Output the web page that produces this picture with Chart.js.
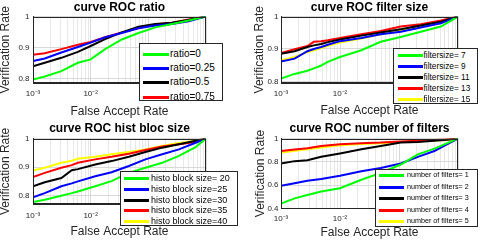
<!DOCTYPE html>
<html><head><meta charset="utf-8">
<script src="https://cdn.jsdelivr.net/npm/chart.js@4/dist/chart.umd.min.js"></script>
<style>
html,body{margin:0;padding:0;background:#fff}
body{width:480px;height:242px;position:relative;overflow:hidden;font-family:"Liberation Sans",Arial,sans-serif}
.panel{position:absolute;width:240px;height:121px}
canvas{display:block}
.leg{position:absolute;background:#fff;border:1px solid #262626;box-sizing:border-box}
.row{position:absolute;left:0;right:0;height:12px;white-space:nowrap;color:#000}
.row .ln{position:absolute;height:3px;top:5px}
.row span{position:absolute;top:0;line-height:12px}
</style>
</head><body>
<div class="panel" style="left:0;top:0"><canvas id="c1" width="240" height="121"></canvas></div>
<div class="panel" style="left:240px;top:0"><canvas id="c2" width="240" height="121"></canvas></div>
<div class="panel" style="left:0;top:121px"><canvas id="c3" width="240" height="121"></canvas></div>
<div class="panel" style="left:240px;top:121px"><canvas id="c4" width="240" height="121"></canvas></div>
<script>
// ---------- data ----------
// Panel 1: ratio
const ratioFAR = [0.001, 0.0016, 0.0031, 0.006, 0.01, 0.0178, 0.0347, 0.0676, 0.132, 0.257, 0.501, 1];
const ratio0    = [0.797, 0.807, 0.824, 0.851, 0.862, 0.895, 0.926, 0.947, 0.965, 0.976, 0.987, 1.0];
const ratio025  = [0.857, 0.865, 0.884, 0.902, 0.916, 0.933, 0.947, 0.962, 0.971, 0.976, 0.985, 1.0];
const ratio05   = [0.840, 0.851, 0.867, 0.886, 0.905, 0.927, 0.949, 0.967, 0.976, 0.980, 0.989, 1.0];
const ratio075  = [0.877, 0.882, 0.895, 0.909, 0.918, 0.933, 0.949, 0.963, 0.974, 0.980, 0.990, 1.0];
const ratioLabels = ['ratio=0', 'ratio=0.25', 'ratio=0.5', 'ratio=0.75'];

// Panel 2: filter size
const filtFAR = [0.001, 0.0017, 0.0028, 0.0036, 0.0048, 0.0062, 0.01, 0.023, 0.049, 0.107, 0.234, 0.513, 1];
const filt7  = [0.809, 0.823, 0.833, 0.840, 0.849, 0.860, 0.875, 0.896, 0.922, 0.937, 0.953, 0.969, 1.0];
const filt9  = [0.861, 0.870, 0.893, 0.900, 0.906, 0.913, 0.924, 0.934, 0.945, 0.953, 0.966, 0.979, 1.0];
const filt11 = [0.885, 0.893, 0.906, 0.911, 0.915, 0.921, 0.929, 0.941, 0.951, 0.961, 0.972, 0.984, 1.0];
const filt13 = [0.887, 0.899, 0.909, 0.922, 0.924, 0.927, 0.934, 0.945, 0.955, 0.969, 0.976, 0.988, 1.0];
const filt15 = [0.865, 0.875, 0.890, 0.896, 0.903, 0.910, 0.920, 0.932, 0.945, 0.958, 0.969, 0.984, 1.0];
const filtLabels = ['filtersize= 7', 'filtersize= 9', 'filtersize= 11', 'filtersize= 13', 'filtersize= 15'];

// Panel 3: hist bloc size
const histFAR = [0.001, 0.0016, 0.0031, 0.0047, 0.006, 0.012, 0.023, 0.046, 0.089, 0.174, 0.339, 0.661, 1];
const hist20 = [0.778, 0.786, 0.800, 0.809, 0.815, 0.833, 0.851, 0.880, 0.898, 0.915, 0.939, 0.970, 1.0];
const hist25 = [0.794, 0.809, 0.833, 0.843, 0.850, 0.868, 0.882, 0.904, 0.927, 0.945, 0.962, 0.985, 1.0];
const hist30 = [0.833, 0.847, 0.862, 0.889, 0.893, 0.909, 0.921, 0.936, 0.953, 0.968, 0.980, 0.992, 1.0];
const hist35 = [0.865, 0.880, 0.898, 0.907, 0.915, 0.927, 0.936, 0.947, 0.960, 0.972, 0.980, 0.988, 1.0];
const hist40 = [0.888, 0.898, 0.915, 0.922, 0.929, 0.936, 0.945, 0.953, 0.962, 0.974, 0.984, 0.992, 1.0];
const histLabels = ['histo block size= 20', 'histo block size=25', 'histo block size=30', 'histo block size=35', 'histo block size=40'];

// Panel 4: number of filters
const numFAR = [0.001, 0.0017, 0.0028, 0.0048, 0.01, 0.023, 0.049, 0.107, 0.209, 0.398, 0.661, 1];
const num1 = [0.443, 0.487, 0.516, 0.545, 0.574, 0.646, 0.704, 0.777, 0.864, 0.913, 0.960, 1.0];
const num2 = [0.594, 0.617, 0.638, 0.652, 0.681, 0.719, 0.748, 0.786, 0.843, 0.893, 0.951, 1.0];
const num3 = [0.786, 0.806, 0.814, 0.843, 0.872, 0.907, 0.936, 0.965, 0.971, 0.980, 0.990, 1.0];
const num4 = [0.893, 0.905, 0.916, 0.936, 0.951, 0.960, 0.965, 0.975, 0.980, 0.987, 0.994, 1.0];
const num5 = [0.878, 0.895, 0.907, 0.922, 0.942, 0.952, 0.959, 0.970, 0.974, 0.982, 0.988, 1.0];
const numLabels = ['number of filters= 1', 'number of filters= 2', 'number of filters= 3', 'number of filters= 4', 'number of filters= 5'];

// tick labels
const xTickValues = [0.001, 0.01];
const xTickText = ['10\u207B\u00B3', '10\u207B\u00B2'];
const yTicksA = [0.8, 0.9, 1];
const yTicksB = [0.4, 0.5, 0.6, 0.7, 0.8, 0.9, 1];

const titles = ['curve ROC ratio', 'curve ROC filter size', 'curve ROC hist bloc size', 'curve ROC number of filters'];
const xTitle = 'False Accept Rate';
const yTitle = 'Verification Rate';

// ---------- styling ----------
const FONT = '"Liberation Sans", Arial, Helvetica, sans-serif';
const C4 = ['#00ff00', '#0000ff', '#000000', '#ff0000'];
const C5 = ['#00ff00', '#0000ff', '#000000', '#ff0000', '#ffff00'];

// grid positions for log axis (1..9 x 10^k)
const gridVals = [];
for (let e = -3; e <= -1; e++) for (let m = 1; m <= 9; m++) gridVals.push(parseFloat((m * Math.pow(10, e)).toPrecision(3)));
gridVals.push(1);

const boxPlugin = {
  id: 'box',
  afterDatasetsDraw(chart) {
    const a = chart.chartArea, ctx = chart.ctx;
    ctx.save();
    ctx.strokeStyle = '#262626';
    ctx.lineWidth = 1;
    ctx.strokeRect(Math.round(a.left) + 0.5, Math.round(a.top) + 0.5, Math.round(a.right) - Math.round(a.left) - 1, Math.round(a.bottom) - Math.round(a.top) - 1);
    ctx.restore();
  }
};

function makePanel(id, g, title, far, series, colors) {
  const datasets = series.map((s, i) => ({
    data: far.map((x, j) => ({x: x, y: s[j]})),
    borderColor: colors[i], backgroundColor: colors[i],
    borderWidth: 2, pointRadius: 0, tension: 0, fill: false
  }));
  new Chart(document.getElementById(id), {
    type: 'line',
    data: {datasets},
    plugins: [boxPlugin],
    options: {
      responsive: false, animation: false, devicePixelRatio: 1,
      layout: {padding: {left: 0, right: 240 - g.right, top: 0, bottom: 0}},
      plugins: {
        legend: {display: false}, tooltip: {enabled: false},
        title: {display: true, text: title, fullSize: false, color: '#000',
          font: {family: FONT, size: 12, weight: 'bold', lineHeight: 1},
          padding: {top: g.tPad, bottom: g.top - 12 - g.tPad}}
      },
      scales: {
        x: {
          type: 'logarithmic', min: 0.001, max: 1,
          afterBuildTicks: s => { s.ticks = gridVals.map(v => ({value: v})); },
          afterFit: s => { s.height = 121 - g.bottom; s.paddingLeft = 0; s.paddingRight = 0; },
          ticks: {autoSkip: false, maxRotation: 0, padding: g.xPad, color: '#262626',
            font: {family: FONT, size: 8},
            callback: v => { const k = xTickValues.indexOf(v); return k >= 0 ? xTickText[k] : ''; }},
          grid: {drawTicks: false, lineWidth: 1,
            color: c => { const v = c.tick && c.tick.value; const l = Math.log10(v); return Math.abs(l - Math.round(l)) < 1e-6 ? '#d9d9d9' : '#e8e8e8'; }},
          border: {color: '#262626', width: 1},
          title: {display: true, text: xTitle, color: '#262626',
            font: {family: FONT, size: 12, lineHeight: 1}, padding: {top: 0, bottom: 121 - g.xTitleY - 6}}
        },
        y: {
          type: 'linear', min: g.ymin, max: 1,
          afterBuildTicks: s => { s.ticks = g.yTicks.map(v => ({value: v})); },
          afterFit: s => { s.width = g.left; },
          ticks: {padding: g.yPad, color: '#262626', font: {family: FONT, size: 8},
            callback: v => String(parseFloat(Number(v).toFixed(2)))},
          grid: {drawTicks: false, color: '#d9d9d9', lineWidth: 1},
          border: {color: '#262626', width: 1},
          title: {display: true, text: yTitle, color: '#262626',
            font: {family: FONT, size: 12, lineHeight: 1}, padding: {top: g.yTitleX - 6, bottom: 0}}
        }
      }
    }
  });
}

makePanel('c1', {left: 33, right: 206, top: 16.5, bottom: 83, ymin: 0.786, yTicks: yTicksA, tPad: 2, xPad: 6, yPad: 3.5, xTitleY: 112, yTitleX: 6},
  titles[0], ratioFAR, [ratio0, ratio025, ratio05, ratio075], C4);
makePanel('c2', {left: 41, right: 218, top: 16.5, bottom: 83, ymin: 0.795, yTicks: yTicksA, tPad: 2, xPad: 6, yPad: 2.5, xTitleY: 111, yTitleX: 20},
  titles[1], filtFAR, [filt7, filt9, filt11, filt13, filt15], C5);
makePanel('c3', {left: 33, right: 206, top: 17.5, bottom: 83.3, ymin: 0.770, yTicks: yTicksA, tPad: 2, xPad: 7, yPad: 3.5, xTitleY: 111, yTitleX: 6},
  titles[2], histFAR, [hist20, hist25, hist30, hist35, hist40], C5);
makePanel('c4', {left: 41, right: 218, top: 17.5, bottom: 87.5, ymin: 0.4, yTicks: yTicksB, tPad: 2, xPad: 5.5, yPad: 2.5, xTitleY: 112, yTitleX: 20.5},
  titles[3], numFAR, [num1, num2, num3, num4, num5], C5);

// ---------- legends (HTML overlays) ----------
function makeLegend(box, labels, colors) {
  const d = document.createElement('div');
  d.className = 'leg';
  d.style.left = box.x + 'px'; d.style.top = box.y + 'px';
  d.style.width = box.w + 'px'; d.style.height = box.h + 'px';
  labels.forEach((t, i) => {
    const r = document.createElement('div');
    r.className = 'row';
    r.style.top = Math.round(box.r0 + i * box.dr - 6) + 'px';
    const ln = document.createElement('div');
    ln.className = 'ln';
    ln.style.background = colors[i];
    ln.style.left = box.l0 + 'px'; ln.style.width = box.lw + 'px';
    const sp = document.createElement('span');
    sp.textContent = t;
    sp.style.left = box.tx + 'px'; sp.style.fontSize = box.fs + 'px';
    r.appendChild(ln); r.appendChild(sp);
    d.appendChild(r);
  });
  document.body.appendChild(d);
}
makeLegend({x: 139, y: 43, w: 84, h: 58, r0: 9.5, dr: 14.4, l0: 3, lw: 26, tx: 30, fs: 10}, ratioLabels, C4);
makeLegend({x: 393, y: 48, w: 85, h: 56, r0: 5.8, dr: 11.1, l0: 4, lw: 25, tx: 29.5, fs: 8.3}, filtLabels, C5);
makeLegend({x: 120, y: 171, w: 118, h: 55, r0: 6, dr: 10.75, l0: 3, lw: 25, tx: 30, fs: 9}, histLabels, C5);
makeLegend({x: 375, y: 169, w: 103, h: 58, r0: 5, dr: 11.5, l0: 3, lw: 25, tx: 31, fs: 7.2}, numLabels, C5);
</script>
</body></html>
